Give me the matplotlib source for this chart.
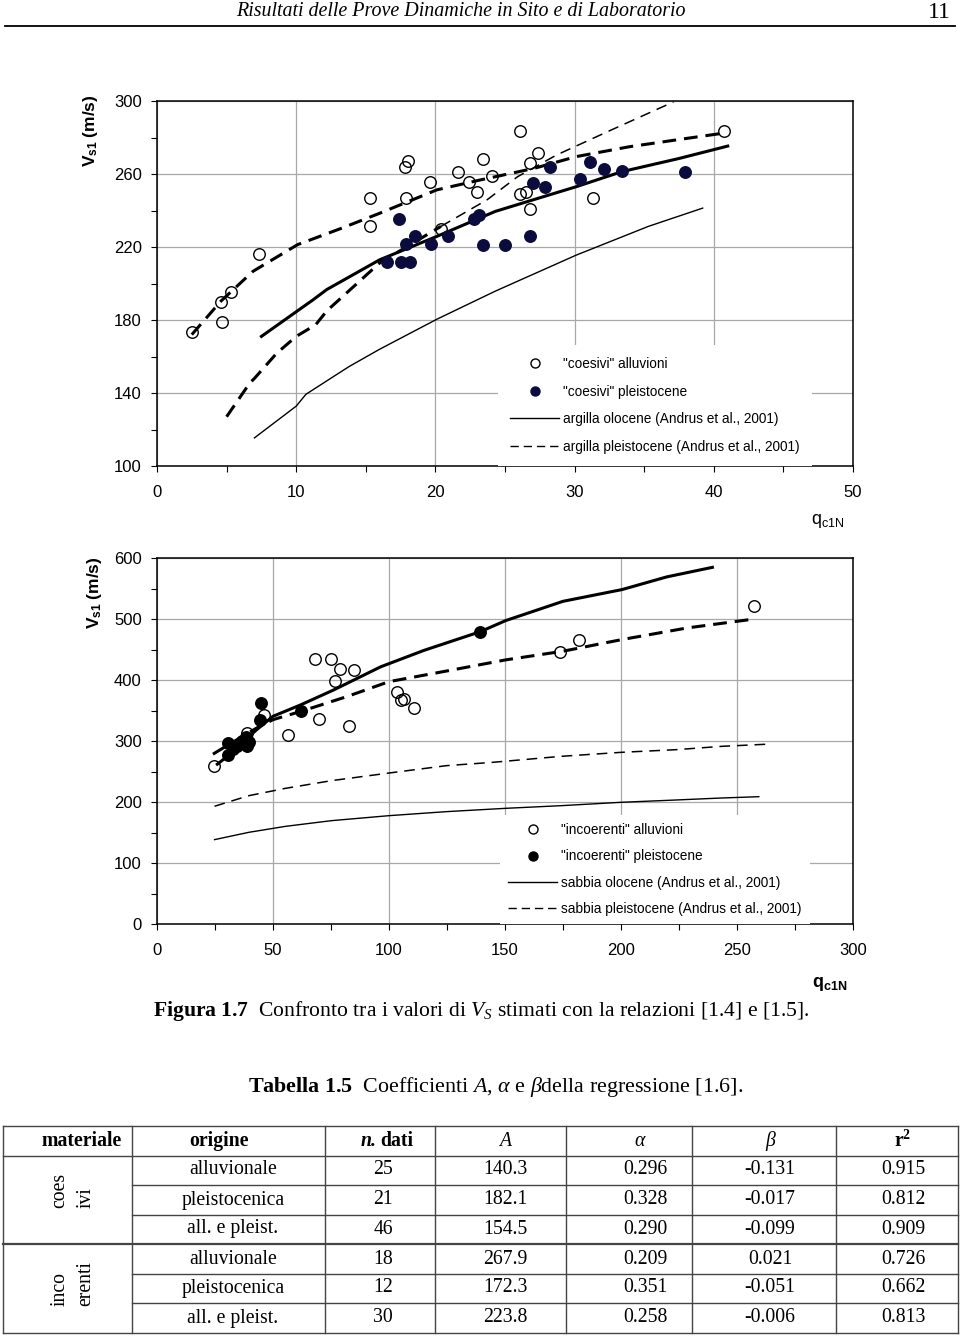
import matplotlib
matplotlib.use('Agg')
import matplotlib.pyplot as plt
from matplotlib.lines import Line2D

plt.rcParams['font.family'] = 'Liberation Sans'
plt.rcParams['mathtext.fontset'] = 'custom'
plt.rcParams['mathtext.rm'] = 'Liberation Serif'
plt.rcParams['mathtext.it'] = 'Liberation Serif:italic'
plt.rcParams['mathtext.bf'] = 'Liberation Serif:bold'
plt.rcParams['mathtext.sf'] = 'Liberation Sans:bold'
plt.rcParams['mathtext.tt'] = 'Liberation Sans'

# ---- upper chart: "coesivi" ----
coes_all_q = [2.5, 4.6, 5.3, 4.7, 7.3, 15.3, 15.3, 17.8, 18.0, 17.9, 19.6, 20.4, 21.6,
              22.4, 23.0, 23.4, 24.1, 26.1, 26.1, 26.5, 26.8, 27.4, 26.8, 31.3, 40.7]
coes_all_v = [173.5, 190, 195.5, 179, 216, 247, 231.6, 263.6, 267, 247, 255.5, 229.8, 261,
              255.8, 250.4, 268, 259, 283.6, 249, 250.4, 265.8, 271.6, 241, 247, 283.6]
coes_ple_q = [17.4, 16.5, 17.5, 18.2, 17.9, 18.5, 19.7, 20.9, 22.8, 23.1, 23.4, 25.0, 26.8,
              27.0, 27.9, 28.2, 30.4, 31.1, 32.1, 33.4, 37.9]
coes_ple_v = [235.5, 212, 212, 212, 221.8, 226, 221.8, 225.8, 235.5, 237.6, 221.3, 221.3, 225.8,
              255.3, 252.7, 263.6, 257.3, 266.7, 263, 261.8, 261]

coes_fit1_q = [7.5, 11.2, 12.2, 16.0, 20.1, 24.3, 27.0, 30.1, 33.4, 37.5, 41.0]
coes_fit1_v = [171, 191, 196.7, 213, 225.8, 239.5, 245.8, 253, 261.3, 268.5, 275.3]
coes_fit2_q = [2.5, 4.6, 6.9, 10.1, 13.3, 16.0, 20.1, 23.2, 27.1, 30.1, 33.9, 37.5, 40.8]
coes_fit2_v = [172, 190.4, 206.7, 221.3, 230.4, 238.5, 251.3, 256.7, 263.1, 269.5, 274.9, 278.9, 282.5]
argilla_olo_q = [7.0, 10.0, 10.7, 13.8, 16.0, 20.1, 24.3, 30.1, 35.3, 39.2]
argilla_olo_v = [115.4, 132.8, 139.3, 154.5, 164, 180.4, 195.8, 215.5, 231.3, 241.3]
argilla_ple_q = [5.0, 6.65, 7.0, 8.6, 10.0, 11.4, 12.2, 16.0, 20.4, 23.7, 25.9, 28.7, 32.6, 37.1]
argilla_ple_v = [127, 145.3, 148, 161.8, 171, 177.4, 185, 211.3, 231.3, 245.8, 258.5, 270.4, 284, 299.5]

# ---- lower chart: "incoerenti" ----
inco_all_q = [24.6, 46.0, 38.8, 56.3, 68.3, 75.2, 78.8, 84.9, 76.9, 70.0, 82.7, 103.3, 105.0,
              106.5, 110.8, 173.7, 182.1, 257.2]
inco_all_v = [258.4, 343, 313.5, 309.7, 435, 435, 417.8, 416.2, 398.4, 336, 325.4, 381, 366.5,
              368.6, 354, 445.6, 466.3, 520.9]
inco_ple_q = [30.8, 30.8, 32.7, 34.5, 36.5, 38.5, 38.8, 39.5, 44.8, 44.2, 62.1, 139.2]
inco_ple_v = [296.2, 276.8, 286.5, 292, 300, 307, 291.9, 299, 362.2, 335.1, 349.7, 479]

inco_fit1_q = [26.0, 28.7, 43.1, 50, 62.1, 76.2, 96.4, 115.1, 139.2, 150.3, 175, 200.4, 219.7, 239.4]
inco_fit1_v = [262, 270, 319, 340.5, 359.5, 383.8, 421.6, 448.6, 479, 497.4, 529, 548.2, 569, 584.7]
inco_fit2_q = [24.1, 31.6, 43.1, 50, 62.1, 82, 100, 125.2, 150.3, 175, 200.4, 228.6, 255.5]
inco_fit2_v = [278.4, 295.7, 321.6, 335, 348.6, 373, 397.3, 415, 433, 447.2, 466.3, 485.4, 499]
sabbia_olo_q = [24.8, 39.6, 55.4, 75.2, 100, 124.8, 150.1, 174.3, 200, 223.8, 243.6, 259.4]
sabbia_olo_v = [138.3, 150.3, 160.1, 169.4, 177.6, 184.2, 189.6, 194, 199.5, 203.3, 206.6, 208.7]
sabbia_ple_q = [24.8, 39.6, 55.4, 75.2, 100, 124.8, 144.6, 174.3, 200, 223.8, 243.6, 264.4]
sabbia_ple_v = [193, 210.4, 222.4, 235, 247.5, 259.6, 265, 274.9, 281.4, 285.8, 291.3, 295]

# ---- table ----
tab_header = ['materiale', 'origine', 'n. dati', 'A', 'α', 'β', 'r$^{\\mathbf{2}}$']
tab_mat = ['coes\nivi', 'inco\nerenti']
tab_orig = ['alluvionale', 'pleistocenica', 'all. e pleist.'] * 2
tab_n = [25, 21, 46, 18, 12, 30]
tab_A = [140.3, 182.1, 154.5, 267.9, 172.3, 223.8]
tab_alpha = [0.296, 0.328, 0.290, 0.209, 0.351, 0.258]
tab_beta = [-0.131, -0.017, -0.099, 0.021, -0.051, -0.006]
tab_r2 = [0.915, 0.812, 0.909, 0.726, 0.662, 0.813]

W, H = 960, 1336
fig = plt.figure(figsize=(W / 100, H / 100), dpi=100)

# page overlay in pixel coordinates
page = fig.add_axes([0, 0, 1, 1])
page.set_xlim(0, W)
page.set_ylim(H, 0)
page.set_axis_off()


def box(l, t, r, b):
    return [l / W, 1 - b / H, (r - l) / W, (b - t) / H]


def style(ax, xmax, yticks, yminor, xstep, xminor):
    ax.set_xlim(0, xmax)
    ax.set_ylim(yticks[0], yticks[-1])
    ax.set_xticks(range(0, xmax + 1, xstep))
    ax.set_xticks(range(0, xmax + 1, xminor), minor=True)
    ax.set_yticks(yticks)
    ax.set_yticks(yminor, minor=True)
    ax.grid(True, which='major', color='#a8a8a8', lw=0.9)
    ax.set_axisbelow(True)
    ax.tick_params(which='both', direction='out', length=4, width=0.8, labelsize=12)
    ax.tick_params(axis='x', pad=10)
    ax.tick_params(axis='y', pad=7)
    for s in ax.spines.values():
        s.set_linewidth(1.1)


navy = '#0b0b3e'
bold_dash = (4.5, 2.6)
thin_dash = (7, 4.5)

# upper chart
ax1 = fig.add_axes(box(157, 101, 853, 466))
style(ax1, 50, list(range(100, 301, 40)), list(range(100, 301, 20)), 10, 5)
ax1.plot(argilla_olo_q, argilla_olo_v, color='black', lw=1.0)
split = argilla_ple_q.index(20.4) + 1
ax1.plot(argilla_ple_q[:split], argilla_ple_v[:split], color='black', lw=2.2, dashes=bold_dash)
ax1.plot(argilla_ple_q[split - 1:], argilla_ple_v[split - 1:], color='black', lw=1.1, dashes=thin_dash)
ax1.plot(coes_fit1_q, coes_fit1_v, color='black', lw=2.2)
ax1.plot(coes_fit2_q, coes_fit2_v, color='black', lw=2.2, dashes=bold_dash)
ax1.plot(coes_all_q, coes_all_v, 'o', ms=8.3, mfc='none', mec='black', mew=1.0, zorder=4)
ax1.plot(coes_ple_q, coes_ple_v, 'o', ms=8.3, mfc=navy, mec=navy, zorder=4)

h1 = [Line2D([], [], ls='none', marker='o', ms=6.5, mfc='white', mec='black', mew=1.0),
      Line2D([], [], ls='none', marker='o', ms=6.5, mfc=navy, mec=navy),
      Line2D([], [], color='black', lw=1.0),
      Line2D([], [], color='black', lw=1.0, dashes=(6, 3.5))]
l1 = ['"coesivi" alluvioni', '"coesivi" pleistocene',
      'argilla olocene (Andrus et al., 2001)', 'argilla pleistocene (Andrus et al., 2001)']
ax1.legend(h1, l1, loc='lower left', bbox_to_anchor=((498 - 157) / 696, 0), borderaxespad=0,
           borderpad=0.9, fontsize=9.8, handlelength=3.6, handletextpad=0.3, labelspacing=1.0,
           frameon=True, fancybox=False, edgecolor='none', framealpha=1)

# lower chart
ax2 = fig.add_axes(box(157, 558, 853, 924))
style(ax2, 300, list(range(0, 601, 100)), list(range(0, 601, 50)), 50, 25)
ax2.plot(sabbia_olo_q, sabbia_olo_v, color='black', lw=1.0)
ax2.plot(sabbia_ple_q, sabbia_ple_v, color='black', lw=1.1, dashes=thin_dash)
ax2.plot(inco_fit1_q, inco_fit1_v, color='black', lw=2.2)
ax2.plot(inco_fit2_q, inco_fit2_v, color='black', lw=2.2, dashes=bold_dash)
ax2.plot(inco_all_q, inco_all_v, 'o', ms=8.3, mfc='none', mec='black', mew=1.0, zorder=4)
ax2.plot(inco_ple_q, inco_ple_v, 'o', ms=8.3, mfc='black', mec='black', zorder=4)

h2 = [Line2D([], [], ls='none', marker='o', ms=6.5, mfc='white', mec='black', mew=1.0),
      Line2D([], [], ls='none', marker='o', ms=6.5, mfc='black', mec='black'),
      Line2D([], [], color='black', lw=1.0),
      Line2D([], [], color='black', lw=1.0, dashes=(6, 3.5))]
l2 = ['"incoerenti" alluvioni', '"incoerenti" pleistocene',
      'sabbia olocene (Andrus et al., 2001)', 'sabbia pleistocene (Andrus et al., 2001)']
ax2.legend(h2, l2, loc='lower left', bbox_to_anchor=((500 - 157) / 696, 0), borderaxespad=0,
           borderpad=0.6, fontsize=9.8, handlelength=3.6, handletextpad=0.3, labelspacing=0.9,
           frameon=True, fancybox=False, edgecolor='none', framealpha=1)

# axis titles
page.text(90, 131, r'$\mathsf{V_{s1}\ (m/s)}$', rotation=90, ha='center', va='center', fontsize=12.5)
page.text(94, 593, r'$\mathsf{V_{s1}\ (m/s)}$', rotation=90, ha='center', va='center', fontsize=12.5)
page.text(828, 521, r'$\mathtt{q_{c1N}}$', ha='center', va='center', fontsize=13)
page.text(830, 984, r'$\mathsf{q_{c1N}}$', ha='center', va='center', fontsize=13)

# page header
page.text(461, 12, 'Risultati delle Prove Dinamiche in Sito e di Laboratorio', family='Liberation Serif',
          fontstyle='italic', fontsize=14.4, ha='center', va='center')
page.text(951, 13, '11', family='Liberation Serif', fontsize=17, ha='right', va='center')
page.plot([5, 955], [26, 26], color='black', lw=1.3)

# captions
page.text(481, 1011, r'$\mathbf{Figura\ 1.7}$  Confronto tra i valori di $V_S$ stimati con la relazioni [1.4] e [1.5].',
          family='Liberation Serif', fontsize=15.6, ha='center', va='center')
page.text(496, 1087, r'$\mathbf{Tabella\ 1.5}$  Coefficienti $A$, $\alpha$ e $\beta$della regressione [1.6].',
          family='Liberation Serif', fontsize=15.8, ha='center', va='center')

# table grid
col_x = [3, 132, 325, 435, 566, 692, 836, 958]
row_y = [1126, 1155.5, 1185, 1214.5, 1244, 1273.5, 1303, 1332.5]
lc = '#444444'
for y in row_y:
    x0 = 132 if y in (1185, 1214.5, 1273.5, 1303) else 3
    page.plot([x0, 958], [y, y], color=lc, lw=1.6 if y == 1244 else 1.0)
for x in col_x:
    page.plot([x, x], [row_y[0], row_y[-1]], color=lc, lw=1.0)

tf = dict(family='Liberation Serif', fontsize=14.2, va='center')
hy = 1141
page.text(82, hy, tab_header[0], fontweight='bold', ha='center', **tf)
page.text(219, hy, tab_header[1], fontweight='bold', ha='center', **tf)
page.text(377, hy, 'n.', fontweight='bold', fontstyle='italic', ha='right', **tf)
page.text(380, hy, 'dati', fontweight='bold', ha='left', **tf)
page.text(505, hy, tab_header[3], fontstyle='italic', ha='center', **tf)
page.text(640, hy, tab_header[4], fontstyle='italic', ha='center', **tf)
page.text(770, hy, tab_header[5], fontstyle='italic', ha='center', **tf)
page.text(903, hy, tab_header[6], fontweight='bold', ha='center', **tf)

page.text(73, 1190, tab_mat[0], rotation=90, ha='center', linespacing=1.5, multialignment='left', **tf)
page.text(73, 1283, tab_mat[1], rotation=90, ha='center', linespacing=1.5, multialignment='left', **tf)

centers = [1170, 1200, 1229, 1259, 1288, 1318]
for i, yc in enumerate(centers):
    page.text(233, yc, tab_orig[i], ha='center', **tf)
    page.text(383, yc, str(tab_n[i]), ha='center', **tf)
    page.text(505, yc, f'{tab_A[i]:.1f}', ha='center', **tf)
    page.text(645, yc, f'{tab_alpha[i]:.3f}', ha='center', **tf)
    page.text(770, yc, f'{tab_beta[i]:.3f}', ha='center', **tf)
    page.text(903, yc, f'{tab_r2[i]:.3f}', ha='center', **tf)

fig.savefig('out.png', dpi=100)
